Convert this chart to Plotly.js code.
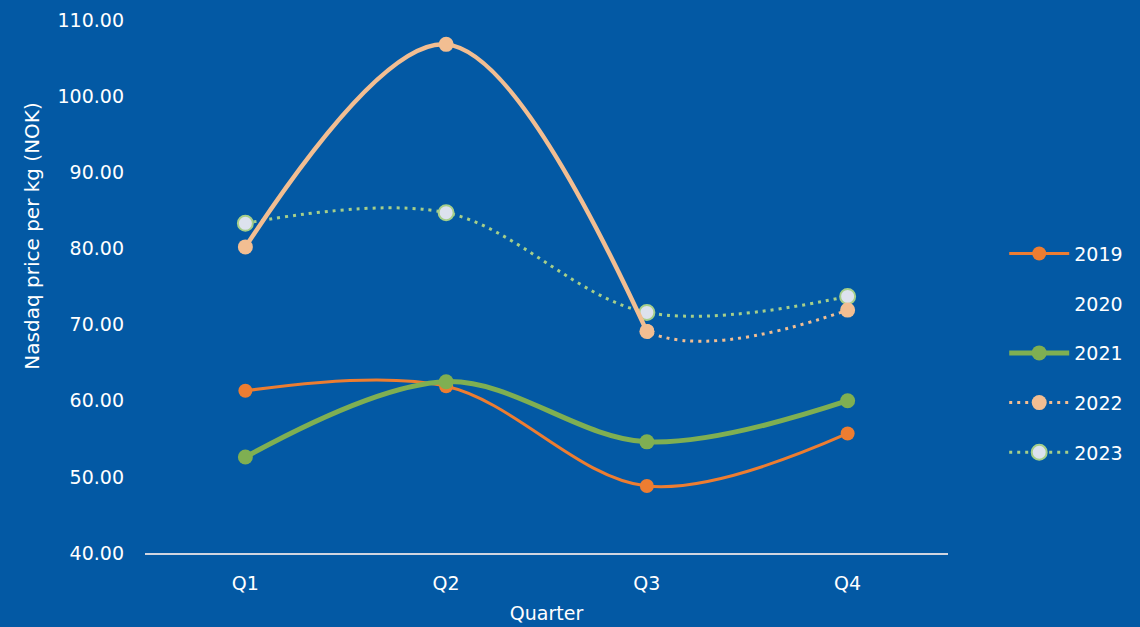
<!DOCTYPE html>
<html>
<head>
<meta charset="utf-8">
<script src="https://cdn.plot.ly/plotly-3.0.1.min.js"></script>
<style>
  html, body { margin: 0; padding: 0; background: #0359A4; }
  #chart { width: 1140px; height: 627px; }
</style>
</head>
<body>
<div id="chart"></div>
<script>
// Quarterly Nasdaq salmon price per kg (NOK)
const quarters = ['Q1', 'Q2', 'Q3', 'Q4'];
const y2019 = [61.3, 61.9, 48.8, 55.7];
const y2020 = [null, null, null, null];
const y2021 = [52.6, 62.5, 54.6, 60.0];
const y2022 = [80.2, 106.8, 69.1, 71.9];
const y2023 = [83.3, 84.7, 71.6, 73.7];

const BG = '#0359A4';
const FONT = '"DejaVu Sans", Verdana, sans-serif';
const FS = 19;
const DOTS = '3px,5px';

// 2022 is drawn solid from Q1 to Q3 and dotted from Q3 to Q4.
// The solid part is its own trace; the dotted trace sits on a hidden
// x-axis whose domain starts at Q3, so only its Q3–Q4 stretch shows.
const y2022Solid = y2022.map((v, i) => (i <= 2 ? v : null));

const traces = [
  {
    name: '2019', x: quarters, y: y2019, legendgroup: 'a', legendrank: 1,
    mode: 'lines+markers', line: { color: '#ED7D31', width: 3, shape: 'spline' },
    marker: { color: '#ED7D31', size: 14 }
  },
  {
    name: '2020', x: quarters, y: y2020, legendgroup: 'b', legendrank: 2,
    mode: 'lines', line: { color: 'rgba(0,0,0,0)', width: 0 }
  },
  {
    name: '2021', x: quarters, y: y2021, legendgroup: 'c', legendrank: 3,
    mode: 'lines+markers', line: { color: '#7FAF52', width: 5, shape: 'spline' },
    marker: { color: '#7FAF52', size: 15 }
  },
  {
    name: '2023', x: quarters, y: y2023, legendgroup: 'e', legendrank: 5,
    mode: 'lines+markers', line: { color: '#A6CF8A', width: 3, shape: 'spline', dash: DOTS },
    marker: { color: '#DDE2EE', size: 15, line: { color: '#A6CF8A', width: 2 } }
  },
  {
    name: '2022', x: quarters, y: y2022Solid, legendgroup: 'd', legendrank: 4, showlegend: false,
    mode: 'lines+markers', line: { color: '#F2BE92', width: 4.5, shape: 'spline' },
    marker: { color: '#F2BE92', size: 15 }
  },
  {
    name: '2022', x: quarters, y: y2022, legendgroup: 'd', legendrank: 4,
    xaxis: 'x2', yaxis: 'y',
    mode: 'lines+markers', line: { color: '#F2BE92', width: 3, shape: 'spline', dash: DOTS },
    marker: { color: '#F2BE92', size: 15 }
  }
];

const tickFont = { family: FONT, size: FS, color: '#FFFFFF' };

const layout = {
  width: 1140, height: 627,
  paper_bgcolor: BG, plot_bgcolor: 'rgba(0,0,0,0)',
  font: { family: FONT, size: FS, color: '#FFFFFF' },
  margin: { l: 145, r: 189, t: 20, b: 74 },
  showlegend: true,
  legend: {
    x: 1.07, xanchor: 'left', y: 0.375, yanchor: 'middle',
    bgcolor: 'rgba(0,0,0,0)', font: tickFont,
    traceorder: 'grouped', tracegroupgap: 22, itemwidth: 60
  },
  xaxis: {
    type: 'category', range: [-0.5, 3.5], domain: [0, 1],
    showgrid: false, zeroline: false,
    showline: true, linecolor: '#D0D5E0', linewidth: 2,
    ticks: '', ticklabelstandoff: 12,
    tickfont: tickFont,
    title: { text: 'Quarter', font: { family: FONT, size: FS, color: '#FFFFFF' }, standoff: 14 }
  },
  xaxis2: {
    type: 'category', categoryarray: quarters, categoryorder: 'array',
    range: [2, 3.5], domain: [0.625, 1], anchor: 'y',
    visible: false, showgrid: false, zeroline: false
  },
  yaxis: {
    range: [40, 110], dtick: 10, tickformat: '.2f',
    showgrid: false, zeroline: false, showline: false,
    ticks: '', ticklabelstandoff: 20,
    tickfont: tickFont
  },
  annotations: [{
    text: 'Nasdaq price per kg (NOK)', textangle: -90,
    xref: 'paper', yref: 'paper', x: -0.141, y: 0.595,
    xanchor: 'center', yanchor: 'middle', showarrow: false,
    font: { family: FONT, size: 20, color: '#FFFFFF' }
  }]
};

Plotly.newPlot('chart', traces, layout, { displayModeBar: false, staticPlot: true });
</script>
</body>
</html>
